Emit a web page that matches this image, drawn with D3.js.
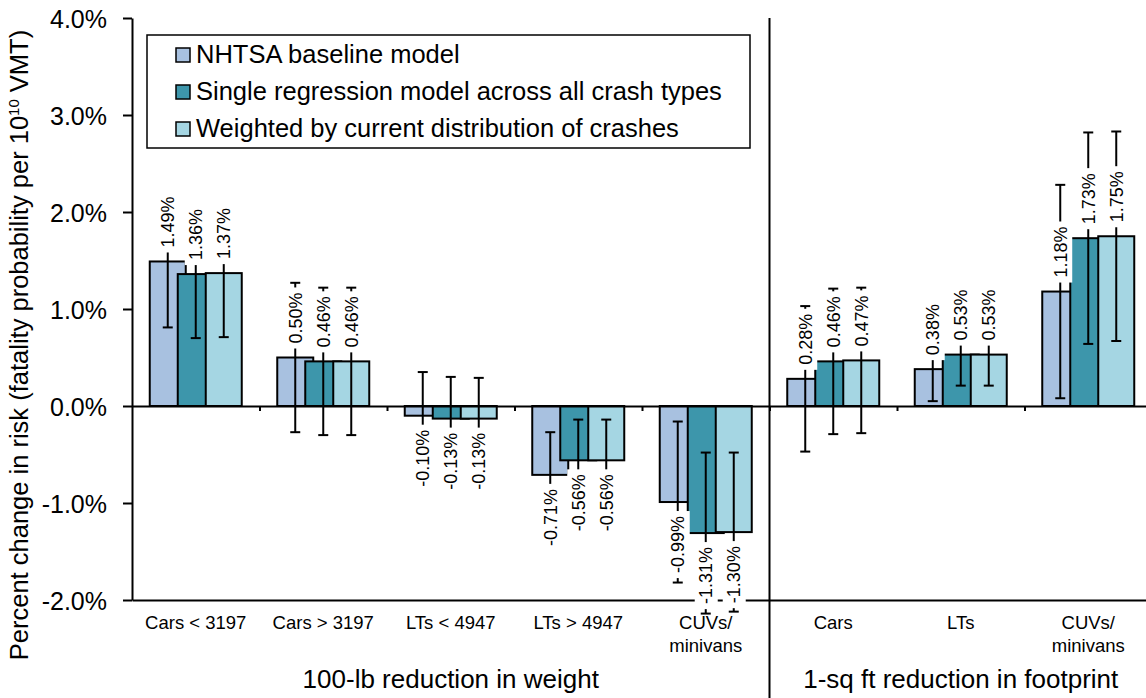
<!DOCTYPE html>
<html>
<head>
<meta charset="utf-8">
<script src="https://cdn.jsdelivr.net/npm/d3@7"></script>
<style>
  body { margin: 0; background: #fff; }
  svg { display: block; font-family: "Liberation Sans", Arial, sans-serif; }
</style>
</head>
<body>
<svg id="chart" width="1146" height="698"></svg>
<script>
// categories along the x axis (two lines where the label wraps)
const categories = [
    ["Cars < 3197"], ["Cars > 3197"], ["LTs < 4947"], ["LTs > 4947"], ["CUVs/", "minivans"],
    ["Cars"], ["LTs"], ["CUVs/", "minivans"]
];
const groups = [
    { label: "100-lb reduction in weight", from: 0, to: 5 },
    { label: "1-sq ft reduction in footprint", from: 5, to: 8 }
];
const seriesNames = [
    "NHTSA baseline model",
    "Single regression model across all crash types",
    "Weighted by current distribution of crashes"
];
// percent change values
const nhtsa    = [1.49, 0.50, -0.10, -0.71, -0.99, 0.28, 0.38, 1.18];
const single   = [1.36, 0.46, -0.13, -0.56, -1.31, 0.46, 0.53, 1.73];
const weighted = [1.37, 0.46, -0.13, -0.56, -1.30, 0.47, 0.53, 1.75];
// error bar half widths
const nhtsaErr    = [0.68, 0.77, 0.45, 0.44, 0.83, 0.75, 0.33, 1.10];
const singleErr   = [0.66, 0.76, 0.43, 0.42, 0.83, 0.75, 0.32, 1.09];
const weightedErr = [0.66, 0.76, 0.42, 0.42, 0.82, 0.75, 0.32, 1.08];
const yTicks = [-2, -1, 0, 1, 2, 3, 4];
const colors = ["#a8c1e0", "#3d96ab", "#a5d6e3"];

const series = [
    { name: seriesNames[0], values: nhtsa, err: nhtsaErr },
    { name: seriesNames[1], values: single, err: singleErr },
    { name: seriesNames[2], values: weighted, err: weightedErr }
];

const svg = d3.select("#chart");

const x = d3.scaleBand()
    .domain(d3.range(categories.length))
    .range([132, 1152]);
const xEdge = d3.scaleLinear()
    .domain([0, categories.length])
    .range(x.range());
const y = d3.scaleLinear()
    .domain([-2, 4])
    .range([600, 18]);
const offset = d3.scaleLinear().domain([0, 2]).range([-28, 28]);
const barW = 36;
const cx = (i, si) => x(i) + x.bandwidth() / 2 + offset(si);

// Y axis
const yAxis = svg.append("g")
    .attr("transform", "translate(132,0)")
    .call(d3.axisLeft(y)
        .tickValues(yTicks)
        .tickSize(9)
        .tickSizeOuter(0)
        .tickPadding(16)
        .tickFormat(d => d.toFixed(1) + "%"));
yAxis.selectAll("text")
    .attr("font-size", 25)
    .attr("font-family", "Liberation Sans, Arial, sans-serif")
    .attr("fill", "#000")
    .attr("dy", "0.38em");
yAxis.selectAll("line, path").attr("stroke", "#000").attr("stroke-width", 2);

// bottom line at -2%
svg.append("g")
    .attr("transform", "translate(0," + y(-2) + ")")
    .call(d3.axisBottom(xEdge).tickValues([]).tickSizeOuter(0))
    .select(".domain")
    .attr("stroke", "#000")
    .attr("stroke-width", 2);

// separator between the two panels
svg.append("line")
    .attr("x1", xEdge(5)).attr("x2", xEdge(5))
    .attr("y1", y(4)).attr("y2", 698)
    .attr("stroke", "#000")
    .attr("stroke-width", 2);

// bars
series.forEach((s, si) => {
    svg.append("g")
        .selectAll("rect")
        .data(s.values)
        .join("rect")
        .attr("x", (d, i) => cx(i, si) - barW / 2)
        .attr("y", d => y(Math.max(0, d)))
        .attr("width", barW)
        .attr("height", d => Math.abs(y(d) - y(0)))
        .attr("fill", colors[si])
        .attr("stroke", "#000")
        .attr("stroke-width", 2);
});

// zero line with ticks at category edges
svg.append("g")
    .attr("transform", "translate(0," + y(0) + ")")
    .call(d3.axisBottom(xEdge)
        .tickValues(d3.range(1, categories.length))
        .tickSize(5)
        .tickSizeOuter(0)
        .tickFormat(""))
    .selectAll("line, path")
    .attr("stroke", "#000")
    .attr("stroke-width", 2);

// error bars
series.forEach((s, si) => {
    const g = svg.append("g").attr("stroke", "#000").attr("stroke-width", 2);
    s.values.forEach((v, i) => {
        const px = cx(i, si);
        const lo = y(v - s.err[i]), hi = y(v + s.err[i]);
        g.append("line").attr("x1", px).attr("x2", px).attr("y1", lo).attr("y2", hi);
        g.append("line").attr("x1", px - 5).attr("x2", px + 5).attr("y1", lo).attr("y2", lo);
        g.append("line").attr("x1", px - 5).attr("x2", px + 5).attr("y1", hi).attr("y2", hi);
    });
});

// value labels, rotated with a white box behind
series.forEach((s, si) => {
    s.values.forEach((v, i) => {
        const yy = v >= 0 ? y(v) - 14 : y(v) + 14;
        const g = svg.append("g")
            .attr("transform", `translate(${cx(i, si)},${yy}) rotate(-90)`);
        const t = g.append("text")
            .attr("text-anchor", v >= 0 ? "start" : "end")
            .attr("dy", "0.36em")
            .attr("font-size", 18)
            .attr("fill", "#000")
            .text(v.toFixed(2) + "%");
        const b = t.node().getBBox();
        g.insert("rect", "text")
            .attr("x", b.x - 5)
            .attr("y", b.y - 1.5)
            .attr("width", b.width + 10)
            .attr("height", b.height + 3)
            .attr("fill", "#fff");
    });
});

// category labels
svg.append("g")
    .selectAll("text")
    .data(categories)
    .join("text")
    .attr("x", (d, i) => x(i) + x.bandwidth() / 2)
    .attr("y", 629)
    .attr("text-anchor", "middle")
    .attr("font-size", 18.5)
    .attr("fill", "#000")
    .selectAll("tspan")
    .data(d => d)
    .join("tspan")
    .attr("x", function () { return this.parentNode.getAttribute("x"); })
    .attr("dy", (d, j) => j === 0 ? 0 : 23)
    .text(d => d);

// group labels
svg.append("g")
    .selectAll("text")
    .data(groups)
    .join("text")
    .attr("x", d => (xEdge(d.from) + Math.min(xEdge(d.to), 1170)) / 2)
    .attr("y", 688)
    .attr("text-anchor", "middle")
    .attr("font-size", 26)
    .attr("fill", "#000")
    .text(d => d.label);

// y axis title
const title = svg.append("text")
    .attr("transform", "translate(28,345) rotate(-90)")
    .attr("text-anchor", "middle")
    .attr("font-size", 25.5)
    .attr("fill", "#000");
title.append("tspan").text("Percent change in risk (fatality probability per 10");
title.append("tspan").attr("font-size", 15).attr("dy", -9).text("10");
title.append("tspan").attr("dy", 9).text(" VMT)");

// legend
const legend = svg.append("g");
legend.append("rect")
    .attr("x", 147).attr("y", 35)
    .attr("width", 603).attr("height", 113)
    .attr("fill", "#fff")
    .attr("stroke", "#000")
    .attr("stroke-width", 1.5);
const items = legend.selectAll("g")
    .data(series)
    .join("g")
    .attr("transform", (d, i) => `translate(0,${63 + i * 37})`);
items.append("rect")
    .attr("x", 176).attr("y", -15)
    .attr("width", 14).attr("height", 14)
    .attr("fill", (d, i) => colors[i])
    .attr("stroke", "#000")
    .attr("stroke-width", 1.5);
items.append("text")
    .attr("x", 196)
    .attr("font-size", 25.5)
    .attr("fill", "#000")
    .text(d => d.name);
</script>
</body>
</html>
